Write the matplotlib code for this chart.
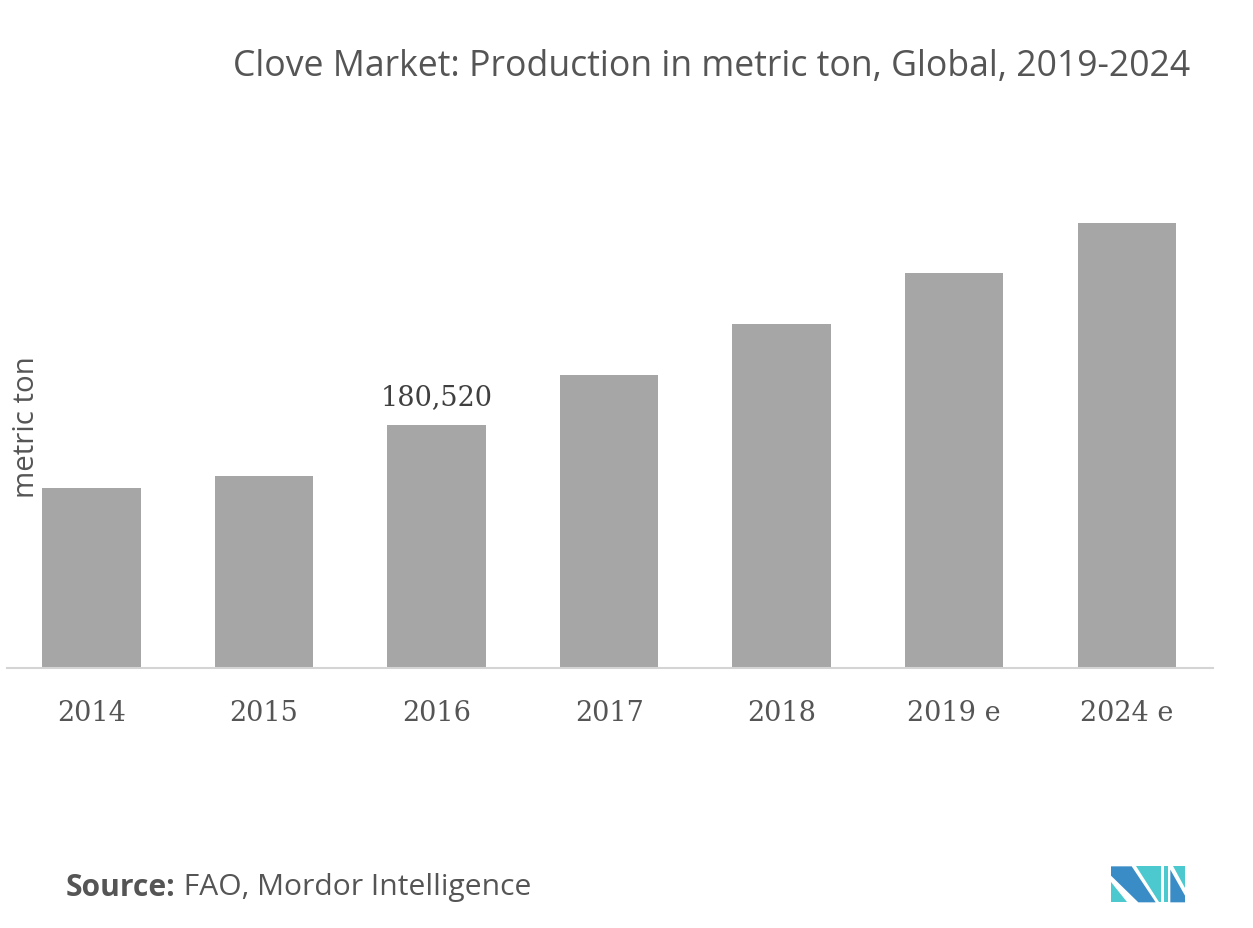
import matplotlib
matplotlib.use("Agg")
import matplotlib.pyplot as plt
from matplotlib.patches import Polygon
import matplotlib.font_manager as fm

categories = ["2014", "2015", "2016", "2017", "2018", "2019 e", "2024 e"]
values = [133720, 142640, 180520, 217670, 255560, 293450, 330590]
label_index = 2
label_text = "180,520"
title = "Clove Market: Production in metric ton, Global, 2019-2024"
ylabel = "metric ton"
source_bold = "Source:"
source_rest = " FAO, Mordor Intelligence"

W, H = 1253, 929
fig = plt.figure(figsize=(W / 100, H / 100), dpi=100)
fig.patch.set_facecolor("white")

ax_left, ax_right = 7 / W, 1213 / W
ax_bottom = 1 - 669 / H
ax_top = 1 - 200 / H
ax = fig.add_axes([ax_left, ax_bottom, ax_right - ax_left, ax_top - ax_bottom])

x = list(range(len(categories)))
ax.bar(x, values, width=0.57, color="#a6a6a6", zorder=2)
ax.set_xlim(-0.49, len(categories) - 0.5)
ax.set_ylim(0, values[label_index] * (669 - 200) / 243)

for s in ["top", "right", "left"]:
    ax.spines[s].set_visible(False)
ax.spines["bottom"].set_color("#d4d4d4")
ax.spines["bottom"].set_linewidth(1.5)
ax.set_yticks([])
ax.set_xticks(x)
avail = {f.name for f in fm.fontManager.ttflist}
serif = [f for f in ["DejaVu Serif Condensed", "DejaVu Serif"] if f in avail] or ["DejaVu Serif"]
sans = "Open Sans" if "Open Sans" in avail else "DejaVu Sans"
ax.set_xticklabels(categories, fontfamily=serif, fontsize=19.5, color="#555555")
ax.tick_params(axis="x", length=0, pad=22)

ax.annotate(label_text, (label_index, values[label_index]), xytext=(0, 11),
            textcoords="offset points", ha="center", va="bottom",
            fontfamily=serif, fontsize=19.5, color="#404040")

fig.text(1190 / W, 1 - 67 / H, title, ha="right", va="center",
         fontfamily=sans, fontsize=25.7, color="#555555")

fig.text(27 / W, 1 - 427 / H, ylabel, ha="center", va="center", rotation=90,
         fontfamily=sans, fontsize=21.2, color="#555555")

fig.canvas.draw()
r = fig.canvas.get_renderer()
t1 = fig.text(66 / W, 1 - 888 / H, source_bold, ha="left", va="center",
              fontfamily=sans, fontweight="bold", fontsize=21.6, color="#555555")
bb = t1.get_window_extent(renderer=r)
fig.text(bb.x1 / W, 1 - 888 / H, source_rest, ha="left", va="center",
         fontfamily=sans, fontsize=21.6, color="#555555")

# logo
def P(pts, c):
    fig.patches.append(Polygon([(px / W, 1 - py / H) for px, py in pts], closed=True,
                               transform=fig.transFigure, facecolor=c, edgecolor="none"))

dark = "#3a8cc6"
teal = "#4cc8cf"
ox, oy = 1105, 860
def Z(pts):
    return [(ox + a / 3, oy + b / 3) for a, b in pts]
P(Z([(18, 22), (80, 22), (152, 130), (100, 130), (18, 50)]), dark)
P(Z([(18, 68), (18, 130), (66, 130)]), teal)
P(Z([(94, 22), (168, 22), (168, 130), (162, 130)]), teal)
P(Z([(178, 22), (190, 22), (190, 130), (178, 130)]), teal)
P(Z([(196, 32), (240, 110), (240, 130), (196, 130)]), dark)
P(Z([(204, 22), (240, 22), (240, 88)]), teal)

fig.savefig("out.png", dpi=100, facecolor="white")
